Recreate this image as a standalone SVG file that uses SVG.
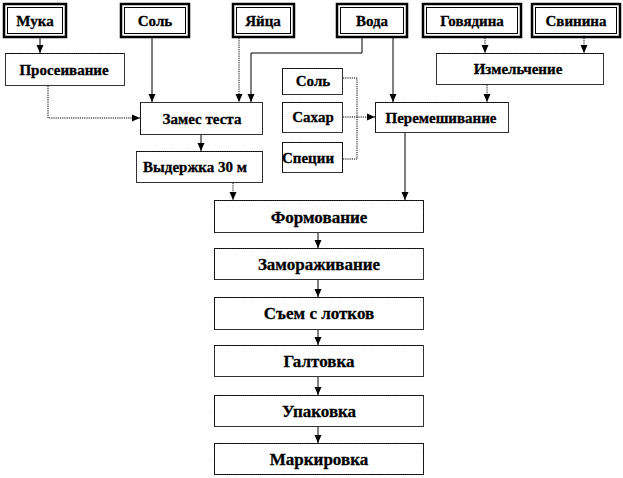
<svg xmlns="http://www.w3.org/2000/svg" width="623" height="478" viewBox="0 0 623 478">
<style>
.t{font-family:"Liberation Serif","Times New Roman",serif;font-weight:bold;fill:#000;stroke:#000;stroke-width:0.3;text-anchor:middle;dominant-baseline:central}
.s{font-size:15px}
.m{font-size:17px}
.outer{fill:#fff;stroke:#000;stroke-width:2.5}
.inner{fill:none;stroke:#000;stroke-width:1}
.box{fill:#fff;stroke:#333;stroke-width:1}
.dot{fill:none;stroke:#000;stroke-width:1;stroke-dasharray:1.2 1}
.ln{fill:none;stroke:#000;stroke-width:1}
.dl{fill:none;stroke:#000;stroke-width:1;stroke-dasharray:1.2 1}
</style>
<defs>
<marker id="a" viewBox="0 0 8 8" refX="8" refY="4" markerWidth="8" markerHeight="8" markerUnits="userSpaceOnUse" orient="auto">
<path d="M0,0.5 L8,4 L0,7.5 Z" fill="#000"/>
</marker>
</defs>
<rect width="623" height="478" fill="#fff"/>
<g id="connectors">
<path class="ln" d="M40,38 V53" marker-end="url(#a)"/>
<path class="ln" d="M152,38 V102" marker-end="url(#a)"/>
<path class="dl" d="M239,38 V102" marker-end="url(#a)"/>
<path class="ln" d="M362,38 V53 H251 V102" marker-end="url(#a)"/>
<path class="dl" d="M48,86 V118 H140" marker-end="url(#a)"/>
<path class="ln" d="M201,135 V151" marker-end="url(#a)"/>
<path class="dl" d="M233,183 V200" marker-end="url(#a)"/>
<path class="ln" d="M393,38 V102" marker-end="url(#a)"/>
<path class="dl" d="M485,38 V53" marker-end="url(#a)"/>
<path class="dl" d="M584,38 V53" marker-end="url(#a)"/>
<path class="dl" d="M487,85 V102" marker-end="url(#a)"/>
<path class="dl" d="M343,78 H357 V159 H343"/>
<path class="dl" d="M343,117 H375" marker-end="url(#a)"/>
<path class="ln" d="M405,133 V200" marker-end="url(#a)"/>
<path class="ln" d="M318,233 V248" marker-end="url(#a)"/>
<path class="ln" d="M318,280 V297" marker-end="url(#a)"/>
<path class="ln" d="M318,329 V345" marker-end="url(#a)"/>
<path class="ln" d="M318,377 V395" marker-end="url(#a)"/>
<path class="ln" d="M318,427 V443" marker-end="url(#a)"/>
</g>
<g id="muka"><rect class="outer" x="4" y="4" width="62" height="33"/><rect class="inner" x="7.5" y="7.5" width="55" height="26"/><text class="t s" x="35" y="21">Мука</text></g>
<g id="sol1"><rect class="outer" x="121" y="4" width="68" height="33"/><rect class="inner" x="124.5" y="7.5" width="61" height="26"/><text class="t s" x="155" y="21">Соль</text></g>
<g id="yaica"><rect class="outer" x="233" y="4" width="61" height="33"/><rect class="inner" x="236.5" y="7.5" width="54" height="26"/><text class="t s" x="263" y="21">Яйца</text></g>
<g id="voda"><rect class="outer" x="337" y="4" width="70" height="33"/><rect class="inner" x="340.5" y="7.5" width="63" height="26"/><text class="t s" x="372" y="21">Вода</text></g>
<g id="govyadina"><rect class="outer" x="423" y="4" width="98" height="33"/><rect class="inner" x="426.5" y="7.5" width="91" height="26"/><text class="t s" x="472" y="21">Говядина</text></g>
<g id="svinina"><rect class="outer" x="532" y="4" width="88" height="33"/><rect class="inner" x="535.5" y="7.5" width="81" height="26"/><text class="t s" x="576" y="21">Свинина</text></g>
<g id="proseivanie"><rect class="box" x="5.5" y="53.5" width="119" height="32"/><path class="dot" d="M5.5,53.5 H124.5"/><text class="t s" x="64" y="70">Просеивание</text></g>
<g id="zames"><rect class="box" x="140.5" y="102.5" width="122" height="32"/><path class="dot" d="M140.5,102.5 V134.5"/><text class="t s" x="202" y="119">Замес теста</text></g>
<g id="vyderzhka"><rect class="box" x="136.5" y="151.5" width="126" height="31"/><path class="dot" d="M136.5,151.5 H262.5"/><text class="t s" x="195" y="167">Выдержка 30 м</text></g>
<g id="sol2"><rect class="box" x="282.5" y="68.5" width="60" height="26"/><path class="dot" d="M282.5,94.5 V68.5 H342.5"/><text class="t s" x="313" y="81">Соль</text></g>
<g id="sahar"><rect class="box" x="282.5" y="102.5" width="60" height="30"/><path class="dot" d="M282.5,132.5 V102.5 H342.5"/><text class="t s" x="313" y="117">Сахар</text></g>
<g id="specii"><rect class="box" x="282.5" y="142.5" width="60" height="30"/><path class="dot" d="M282.5,172.5 V142.5 H342.5 V172.5"/><text class="t s" x="308" y="158">Специи</text></g>
<g id="peremeshivanie"><rect class="box" x="375.5" y="102.5" width="133" height="30"/><path class="dot" d="M375.5,132.5 V102.5 H508.5"/><text class="t s" x="441" y="118">Перемешивание</text></g>
<g id="izmelchenie"><rect class="box" x="436.5" y="53.5" width="167" height="31"/><path class="dot" d="M436.5,53.5 H603.5"/><text class="t s" x="518" y="69">Измельчение</text></g>
<g id="formovanie"><rect class="box" x="214.5" y="200.5" width="209" height="32"/><path class="dot" d="M214.5,232.5 V200.5 H423.5 V232.5"/><text class="t m" x="319" y="217">Формование</text></g>
<g id="zamorazhivanie"><rect class="box" x="214.5" y="248.5" width="209" height="31"/><path class="dot" d="M214.5,279.5 V248.5 H423.5"/><text class="t m" x="319" y="264">Замораживание</text></g>
<g id="sem"><rect class="box" x="214.5" y="297.5" width="209" height="32"/><path class="dot" d="M214.5,329.5 V297.5 H423.5"/><text class="t m" x="319" y="313">Съем с лотков</text></g>
<g id="galtovka"><rect class="box" x="214.5" y="345.5" width="209" height="31"/><path class="dot" d="M214.5,345.5 H423.5"/><text class="t m" x="319" y="361">Галтовка</text></g>
<g id="upakovka"><rect class="box" x="214.5" y="395.5" width="209" height="31"/><path class="dot" d="M214.5,426.5 V395.5 H423.5"/><text class="t m" x="319" y="411">Упаковка</text></g>
<g id="markirovka"><rect class="box" x="214.5" y="443.5" width="209" height="31"/><path class="dot" d="M214.5,474.5 V443.5 H423.5 V474.5 H214.5"/><text class="t m" x="319" y="459">Маркировка</text></g>
</svg>
